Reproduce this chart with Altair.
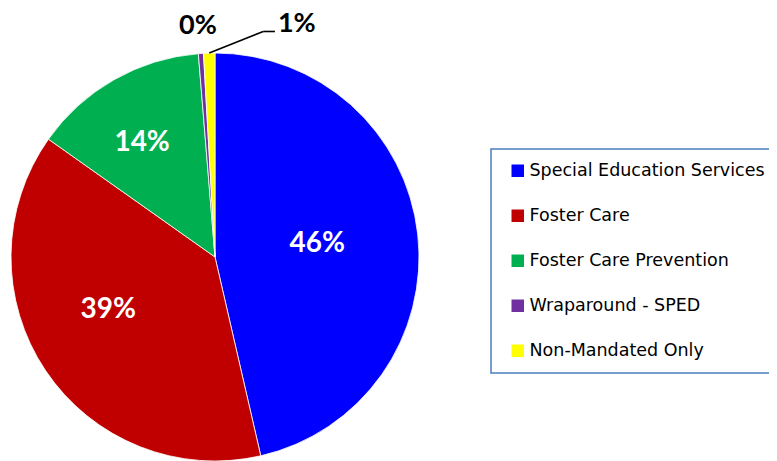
import math
import altair as alt
import pandas as pd

categories = ["Special Education Services", "Foster Care", "Foster Care Prevention",
              "Wraparound - SPED", "Non-Mandated Only"]
shares = [46.4, 38.4, 13.9, 0.4, 0.9]
pct_labels = ["46%", "39%", "14%", "0%", "1%"]
colors = ["#0000FF", "#C00000", "#00B050", "#7030A0", "#FFFF00"]

df = pd.DataFrame({"category": categories, "share": shares,
                   "label": pct_labels, "idx": list(range(len(categories)))})

CX, CY, R = 207, 249, 204
TWO_PI = 2 * math.pi
theta_scale = alt.Scale(domain=[0, 100], range=[0, TWO_PI])

base = alt.Chart(df).transform_window(
    cum="sum(share)", sort=[alt.SortField("idx")], frame=[None, 0]
).transform_calculate(
    mid="datum.cum - datum.share / 2"
)

pie = alt.Chart(df).mark_arc(radius=R, stroke="white", strokeWidth=0.8).encode(
    theta=alt.Theta("share:Q", stack=True, scale=theta_scale),
    color=alt.Color(
        "category:N",
        scale=alt.Scale(domain=categories, range=colors),
        legend=alt.Legend(
            orient="none", legendX=483, legendY=141, title=None,
            symbolType="square", symbolSize=156, symbolStrokeWidth=0,
            symbolOpacity=1, labelFont="DejaVu Sans", labelFontSize=17.5,
            labelColor="#000000", labelOffset=3, rowPadding=26,
            padding=13, symbolOffset=5, strokeColor="#4a7ebb",
            fillColor="white", labelLimit=400,
        ),
    ),
    order=alt.Order("idx:Q"),
    x=alt.value(CX), y=alt.value(CY),
)

def inside_label(cat, radius, dx, dy):
    return base.transform_filter(alt.datum.category == cat).mark_text(
        radius=radius, font="Lato", fontSize=28, fontWeight="bold", color="white",
        align="center", baseline="middle", dx=dx, dy=dy,
    ).encode(
        theta=alt.Theta("mid:Q", scale=theta_scale, stack=False),
        text="label:N", x=alt.value(CX), y=alt.value(CY),
    )

lab_blue = inside_label(categories[0], 105, -2, -1)
lab_red = inside_label(categories[1], 120, -7, -14)
lab_green = inside_label(categories[2], 135, -6, 3)

lab_zero = base.transform_filter(alt.datum.category == categories[3]).mark_text(
    radius=232, font="Lato", fontSize=27, fontWeight="bold", color="black",
    align="center", baseline="middle", dx=-1,
).encode(
    theta=alt.Theta("mid:Q", scale=theta_scale, stack=False),
    text="label:N", x=alt.value(CX), y=alt.value(CY),
)

LEAD_DX, LEAD_DY, LEAD_TAIL = 54, -21.6, 11.7
leader = base.transform_filter(alt.datum.category == categories[4]).transform_calculate(
    lx=f"{CX} + {R} * sin({TWO_PI} * datum.mid / 100)",
    ly=f"{CY} - {R} * cos({TWO_PI} * datum.mid / 100)",
).transform_calculate(
    ex=f"datum.lx + {LEAD_DX}",
    ey=f"datum.ly + {LEAD_DY}",
).transform_calculate(
    tx=f"datum.ex + {LEAD_TAIL}",
)

lead1 = leader.mark_rule(color="black", strokeWidth=1.6).encode(
    x=alt.X("lx:Q", scale=None, axis=None), y=alt.Y("ly:Q", scale=None, axis=None),
    x2="ex:Q", y2="ey:Q",
)
lead2 = leader.mark_rule(color="black", strokeWidth=1.6).encode(
    x=alt.X("ex:Q", scale=None, axis=None), y=alt.Y("ey:Q", scale=None, axis=None),
    x2="tx:Q",
)
lab_one = leader.mark_text(
    font="Lato", fontSize=27, fontWeight="bold", color="black",
    align="left", baseline="middle", dx=3, dy=-7,
).encode(
    x=alt.X("tx:Q", scale=None, axis=None), y=alt.Y("ey:Q", scale=None, axis=None),
    text="label:N",
)

chart = alt.layer(pie, lab_blue, lab_red, lab_green, lab_zero, lead1, lead2, lab_one).properties(
    width=761, height=453, padding=0,
    autosize=alt.AutoSizeParams(type="none"),
).configure_view(strokeWidth=0).configure_legend(strokeWidth=1.5)

chart.save("out.html", embed_options={"renderer": "svg", "actions": False})
